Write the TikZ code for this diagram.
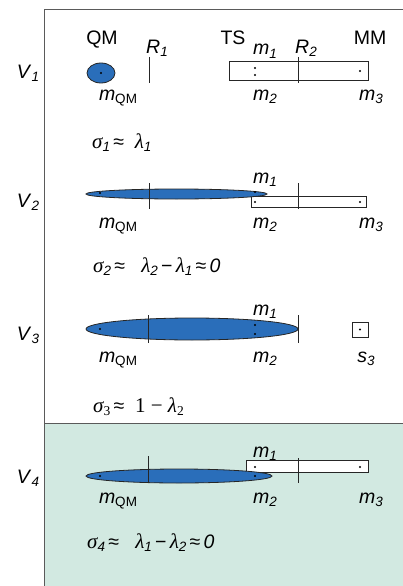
\documentclass[tikz,border=0pt]{standalone}
\usepackage{fontspec}
\setmainfont{Liberation Sans}
\newfontfamily\grk{Liberation Serif}
\usetikzlibrary{shapes.geometric}
\definecolor{qmblue}{RGB}{42,110,186}
\definecolor{greenbg}{RGB}{210,233,225}
\definecolor{framegray}{RGB}{90,90,90}
\newcommand{\fsz}{\fontsize{19.5}{19.5}\selectfont}
\newcommand{\sbs}[1]{\raisebox{-0.38ex}{\fontsize{13.5}{13.5}\selectfont #1}}
\newcommand{\mi}[1]{\textit{m}\sbs{\textit{#1}}}
\newcommand{\sg}{{\grk\fontsize{21}{21}\selectfont\itshape σ}}
\newcommand{\lm}{{\grk\fontsize{21}{21}\selectfont\itshape λ}}
\begin{document}
\begin{tikzpicture}[x=1pt,y=-1pt,
  lbl/.style={inner sep=0pt, font=\fsz, anchor=base},
  eqn/.style={inner sep=0pt, font=\fsz, anchor=base west},
  blob/.style={draw=black!85, fill=qmblue, line width=0.8pt, ellipse, inner sep=0pt},
  mmbox/.style={draw=black!85, fill=white, line width=1pt, rectangle, inner sep=0pt},
  tickline/.style={draw=black!85, line width=0.8pt},
  framel/.style={draw=framegray, line width=1pt},
  dotc/.style={circle, fill=black, inner sep=0pt, minimum size=2.2pt}]
\useasboundingbox (0,0) rectangle (403,586);
\fill[greenbg] (44,423) rectangle (403,586);
\draw[framel] (403,423) -- (44,423);
\draw[framel] (403,10) -- (44,10) -- (44,586);

% ---------- Row 1 ----------
\node[lbl] (v1) at (28,78) {\textit{V}\sbs{\textit{1}}};
\node[blob, minimum width=28, minimum height=20] (qm1) at (101,73) {};
\node[dotc] (dqm1) at (101,73) {};
\draw[tickline] (149,57) -- (149,83);
\node[mmbox, minimum width=139, minimum height=18] (mm1) at (298.5,71) {};
\draw[tickline] (298,57) -- (298,83);
\node[dotc] (d11) at (255,68) {};
\node[dotc] (d12) at (255,75) {};
\node[dotc] (d13) at (360,71) {};
\node[lbl] (qmt) at (102,45) {QM};
\node[lbl] (r1t) at (157,53) {\textit{R}\sbs{\textit{1}}};
\node[lbl] (tst) at (233,45) {TS};
\node[lbl] (m11) at (265,55) {\mi{1}};
\node[lbl] (r2t) at (306,53) {\textit{R}\sbs{\textit{2}}};
\node[lbl] (mmt) at (370,45) {MM};
\node[lbl] (mq1) at (118,100) {\textit{m}\sbs{QM}};
\node[lbl] (m21) at (265,100) {\mi{2}};
\node[lbl] (m31) at (371,100) {\mi{3}};
\node[eqn] (eq1) at (92,148) {\sg\sbs{\textit{1}}\,≈\; \lm\sbs{\textit{1}}};

% ---------- Row 2 ----------
\node[lbl] (v2) at (28,207) {\textit{V}\sbs{\textit{2}}};
\node[mmbox, minimum width=115, minimum height=11] (mm2) at (308.5,201.5) {};
\node[blob, minimum width=181, minimum height=10] (qm2) at (176.5,194) {};
\draw[tickline] (149,183) -- (149,209);
\draw[tickline] (298,183) -- (298,209);
\node[dotc] (dqm2) at (100,193) {};
\node[dotc] (d21) at (255,192) {};
\node[dotc] (d22) at (255,202) {};
\node[dotc] (d23) at (360,202) {};
\node[lbl] (m12) at (265,183) {\mi{1}};
\node[lbl] (mq2) at (118,228) {\textit{m}\sbs{QM}};
\node[lbl] (m22) at (265,228) {\mi{2}};
\node[lbl] (m32) at (371,228) {\mi{3}};
\node[eqn] (eq2) at (93,272) {\sg\sbs{\textit{2}}\,≈\;\; \lm\sbs{\textit{2}}\,−\,\lm\sbs{\textit{1}}\,≈\,\textit{0}};

% ---------- Row 3 ----------
\node[lbl] (v3) at (28,340) {\textit{V}\sbs{\textit{3}}};
\node[blob, minimum width=212, minimum height=22] (qm3) at (192,329) {};
\draw[tickline] (148,315) -- (148,343);
\draw[tickline] (298,315) -- (298,343);
\node[dotc] (dqm3) at (100,329) {};
\node[dotc] (d31) at (255,325) {};
\node[dotc] (d32) at (255,334) {};
\node[mmbox, minimum width=16, minimum height=15] (sq3) at (360,329.5) {};
\node[dotc] (d33) at (360,329.5) {};
\node[lbl] (m13) at (265,315) {\mi{1}};
\node[lbl] (mq3) at (118,362) {\textit{m}\sbs{QM}};
\node[lbl] (m23) at (265,362) {\mi{2}};
\node[lbl] (s33) at (366,362) {\textit{s}\sbs{\textit{3}}};
\node[eqn] (eq3) at (93,412) {\sg\sbs{\grk 3}\,≈\; {\grk\fontsize{21}{21}\selectfont 1 − }\lm\sbs{\grk 2}};

% ---------- Row 4 ----------
\node[lbl] (v4) at (28,483) {\textit{V}\sbs{\textit{4}}};
\node[mmbox, minimum width=122, minimum height=12] (mm4) at (307,466) {};
\node[blob, minimum width=186, minimum height=14] (qm4) at (179,476) {};
\draw[tickline] (148,456) -- (148,483);
\draw[tickline] (298,458) -- (298,483);
\node[dotc] (dqm4) at (100,476) {};
\node[dotc] (d41) at (255,467) {};
\node[dotc] (d42) at (255,476) {};
\node[dotc] (d43) at (360,467) {};
\node[lbl] (m14) at (265,457) {\mi{1}};
\node[lbl] (mq4) at (118,503) {\textit{m}\sbs{QM}};
\node[lbl] (m24) at (265,503) {\mi{2}};
\node[lbl] (m34) at (371,503) {\mi{3}};
\node[eqn] (eq4) at (87,548) {\sg\sbs{\textit{4}}\,≈\;\; \lm\sbs{\textit{1}}\,−\,\lm\sbs{\textit{2}}\,≈\,\textit{0}};
\end{tikzpicture}
\end{document}
